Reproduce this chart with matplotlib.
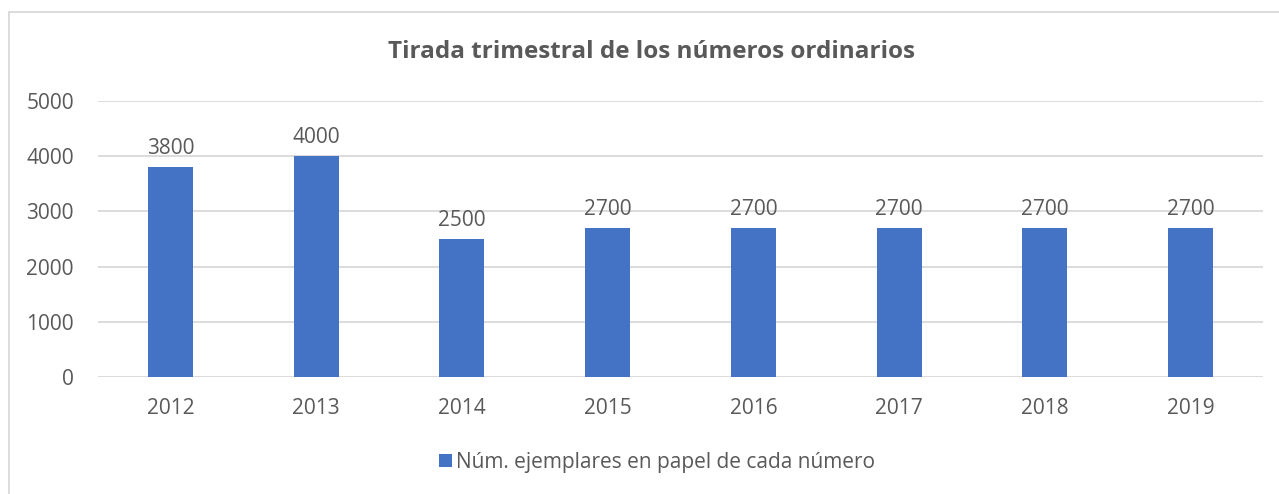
import matplotlib
matplotlib.use('Agg')
import matplotlib.pyplot as plt
from matplotlib.patches import Rectangle

# data
years = ['2012', '2013', '2014', '2015', '2016', '2017', '2018', '2019']
copies = [3800, 4000, 2500, 2700, 2700, 2700, 2700, 2700]
series_name = 'Núm. ejemplares en papel de cada número'
title = 'Tirada trimestral de los números ordinarios'

bar_color = '#4472C4'
text_color = '#595959'
grid_color = '#D9D9D9'

plt.rcParams['font.family'] = ['Open Sans', 'DejaVu Sans']

fig = plt.figure(figsize=(12.79, 4.94), dpi=100)
ax = fig.add_axes([97.6 / 1279, 1 - 377 / 494, (1263.4 - 97.6) / 1279, (377 - 101) / 494])

x = range(len(years))
bars = ax.bar(x, copies, width=0.31, color=bar_color, label=series_name, zorder=3)

for xi, v in zip(x, copies):
    ax.annotate(str(v), (xi, v), xytext=(0, 6), textcoords='offset points',
                ha='center', va='bottom', fontsize=15, color=text_color)

ax.set_xlim(-0.5, len(years) - 0.5)
ax.set_ylim(0, 5000)
ax.set_yticks([0, 1000, 2000, 3000, 4000, 5000])
ax.set_xticks(list(x))
ax.set_xticklabels(years)
ax.tick_params(axis='both', length=0, labelsize=15, colors=text_color)
ax.tick_params(axis='x', pad=15)
ax.tick_params(axis='y', pad=17)
ax.yaxis.grid(True, color=grid_color, linewidth=1.3, zorder=0)
for s in ax.spines.values():
    s.set_visible(False)

fig.text(651 / 1279, 1 - 52 / 494, title, ha='center', va='center',
         fontsize=17.5, fontweight='bold', color=text_color)

fig.legend(handles=[bars], labels=[series_name], loc='center',
           bbox_to_anchor=(657 / 1279, 1 - 462 / 494), frameon=False,
           fontsize=15, labelcolor=text_color, handlelength=0.6,
           handleheight=0.6, handletextpad=0.2)

# chart area border
fig.patches.append(Rectangle((9 / 1279, -0.1), 1.2, 1 - 12 / 494 + 0.1,
                             transform=fig.transFigure, fill=False,
                             edgecolor=grid_color, linewidth=1.3))

fig.savefig('out.png', dpi=100)
